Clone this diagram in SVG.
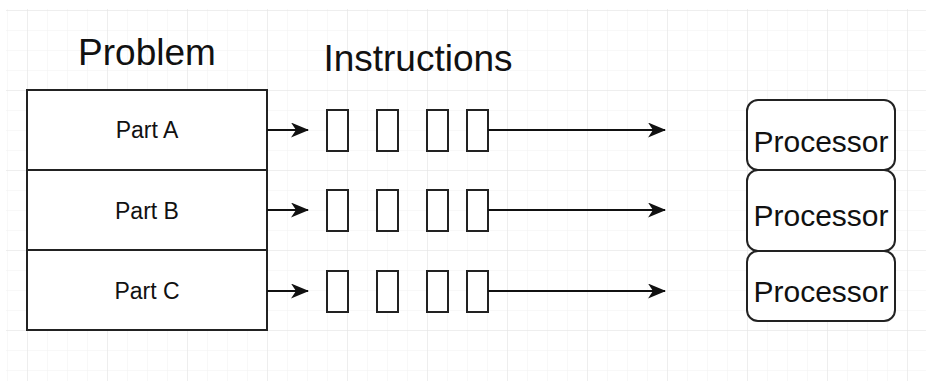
<svg xmlns="http://www.w3.org/2000/svg" width="926" height="381" viewBox="0 0 926 381">
  <defs>
    <pattern id="gridMinor" x="7" y="10" width="20" height="20" patternUnits="userSpaceOnUse">
      <path d="M0,0 V20 M0,0 H20" fill="none" stroke="#f1f1f1" stroke-width="1"/>
    </pattern>
    <pattern id="gridMajor" x="27" y="10" width="80" height="80" patternUnits="userSpaceOnUse">
      <path d="M0,0 V80 M0,0 H80" fill="none" stroke="#e4e4e4" stroke-width="1"/>
    </pattern>
    <marker id="arrow" markerUnits="userSpaceOnUse" viewBox="0 0 18 15" refX="17" refY="7.5" markerWidth="18" markerHeight="15" orient="auto">
      <path d="M0,0 L18,7.5 L0,15 L5,7.5 Z" fill="#111"/>
    </marker>
    <style>
      .box { fill: #fff; stroke: #222; stroke-width: 2; }
      .slot { fill: #fff; stroke: #222; stroke-width: 2; }
      .wire { fill: none; stroke: #111; stroke-width: 2; marker-end: url(#arrow); }
      .title { font-family: "Liberation Sans", Arial, sans-serif; font-size: 37px; fill: #111; text-anchor: middle; }
      .part { font-family: "Liberation Sans", Arial, sans-serif; font-size: 23px; fill: #111; text-anchor: middle; }
      .proc { font-family: "Liberation Sans", Arial, sans-serif; font-size: 30px; fill: #111; text-anchor: middle; }
    </style>
  </defs>

  <!-- canvas background with grid -->
  <rect x="0" y="0" width="926" height="381" fill="#fff"/>
  <rect x="6" y="9" width="920" height="372" fill="url(#gridMinor)"/>
  <rect x="6" y="9" width="920" height="372" fill="url(#gridMajor)"/>

  <!-- headings -->
  <text class="title" x="147" y="65">Problem</text>
  <text class="title" x="418" y="71">Instructions</text>

  <!-- problem split into parts -->
  <g id="partA">
    <rect class="box" x="27" y="90" width="240" height="80"/>
    <text class="part" x="147" y="138">Part A</text>
  </g>
  <g id="partB">
    <rect class="box" x="27" y="170" width="240" height="80"/>
    <text class="part" x="147" y="219">Part B</text>
  </g>
  <g id="partC">
    <rect class="box" x="27" y="250" width="240" height="80"/>
    <text class="part" x="147" y="299">Part C</text>
  </g>

  <!-- instruction slots per part -->
  <g id="instrA">
    <rect class="slot" x="327" y="110" width="21" height="41"/>
    <rect class="slot" x="377" y="110" width="21" height="41"/>
    <rect class="slot" x="427" y="110" width="21" height="41"/>
    <rect class="slot" x="467" y="110" width="21" height="41"/>
  </g>
  <g id="instrB">
    <rect class="slot" x="327" y="190" width="21" height="41"/>
    <rect class="slot" x="377" y="190" width="21" height="41"/>
    <rect class="slot" x="427" y="190" width="21" height="41"/>
    <rect class="slot" x="467" y="190" width="21" height="41"/>
  </g>
  <g id="instrC">
    <rect class="slot" x="327" y="271" width="21" height="41"/>
    <rect class="slot" x="377" y="271" width="21" height="41"/>
    <rect class="slot" x="427" y="271" width="21" height="41"/>
    <rect class="slot" x="467" y="271" width="21" height="41"/>
  </g>

  <!-- processors -->
  <g id="proc1">
    <rect class="box" x="747" y="100" width="148" height="70" rx="11"/>
    <text class="proc" x="821" y="152">Processor</text>
  </g>
  <g id="proc2">
    <rect class="box" x="747" y="170" width="148" height="81" rx="11"/>
    <text class="proc" x="821" y="226">Processor</text>
  </g>
  <g id="proc3">
    <rect class="box" x="747" y="251" width="148" height="70" rx="11"/>
    <text class="proc" x="821" y="302">Processor</text>
  </g>

  <!-- connectors -->
  <g id="connectors">
    <path class="wire" d="M267,130 H308"/>
    <path class="wire" d="M267,210 H308"/>
    <path class="wire" d="M267,291 H308"/>
    <path class="wire" d="M488,130 H665"/>
    <path class="wire" d="M488,210 H665"/>
    <path class="wire" d="M488,291 H665"/>
  </g>
</svg>
